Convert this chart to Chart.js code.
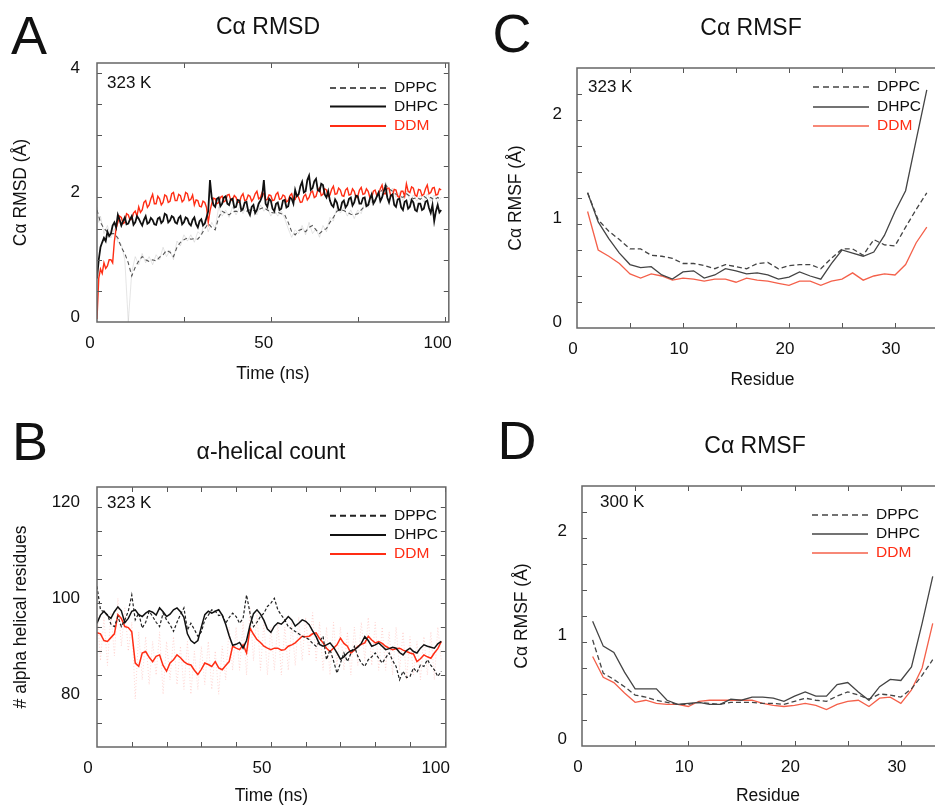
<!DOCTYPE html>
<html>
<head>
<meta charset="utf-8">
<script src="https://cdn.jsdelivr.net/npm/chart.js@4.4.1/dist/chart.umd.min.js"></script>
<style>
  html, body { margin: 0; padding: 0; background: #fff; overflow: hidden; }
  #fig { position: relative; width: 935px; height: 808px; overflow: hidden; font-family: "Liberation Sans", Arial, sans-serif; color: #111; }
  #fig canvas { position: absolute; }
  .tag { position: absolute; transform: translate(-50%, -50%); line-height: 1; white-space: nowrap; }
  .letter { font-size: 54px; }
  .title { font-size: 23px; }
</style>
</head>
<body>
<div id="fig">
  <canvas id="chartA" width="470" height="400" style="left:0;top:0"></canvas>
  <canvas id="chartB" width="470" height="408" style="left:0;top:400px"></canvas>
  <canvas id="chartC" width="520" height="400" style="left:470px;top:0"></canvas>
  <canvas id="chartD" width="520" height="408" style="left:470px;top:400px"></canvas>

  <div class="tag letter" style="left:29px;top:35px">A</div>
  <div class="tag title" style="left:268px;top:26px">Cα RMSD</div>
  <div class="tag letter" style="left:30px;top:441px">B</div>
  <div class="tag title" style="left:271px;top:451px">α-helical count</div>
  <div class="tag letter" style="left:512px;top:33px">C</div>
  <div class="tag title" style="left:751px;top:27px">Cα RMSF</div>
  <div class="tag letter" style="left:517px;top:440px">D</div>
  <div class="tag title" style="left:755px;top:445px">Cα RMSF</div>
</div>

<script>
Chart.defaults.font.family = '"Liberation Sans", Arial, sans-serif';
Chart.defaults.color = "#111";

// tick labels
const rmsdTicks = [0, 2, 4];
const timeTicks = [0, 50, 100];
const helixTicks = [80, 100, 120];
const rmsfTicks = [0, 1, 2];
const residueTicks = [0, 10, 20, 30];

const labels = ["DPPC", "DHPC", "DDM"];

// time grids (ns)
const timeA = [0, 0.5].concat(Array.from({ length: 99 }, (_, i) => i + 1));
const timeAfine = Array.from({ length: 199 }, (_, i) => i / 2);
const timeB = Array.from({ length: 100 }, (_, i) => i);
const residues = [1, 2, 3, 4, 5, 6, 7, 8, 9, 10, 11, 12, 13, 14, 15, 16, 17, 18, 19, 20,
  21, 22, 23, 24, 25, 26, 27, 28, 29, 30, 31, 32, 33];

// A: Ca RMSD at 323 K
const rmsdDppc = [1.8, 1.7, 1.6, 1.5, 1.45, 1.42, 1.42, 1.35, 1.2, 1.1, 0.95,
  0.74, 0.88, 0.98, 1.05, 1.0, 0.97, 1.0, 0.98, 1.04, 1.08,
  1.15, 1.12, 1.05, 1.2, 1.28, 1.32, 1.35, 1.33, 1.34, 1.33,
  1.4, 1.5, 1.58, 1.52, 1.48, 1.68, 1.78, 1.75, 1.72, 1.77,
  1.78, 1.76, 1.8, 1.78, 1.8, 1.79, 1.78, 1.82, 1.84, 1.8,
  1.76, 1.75, 1.76, 1.74, 1.72, 1.6, 1.45, 1.4, 1.47, 1.49,
  1.45, 1.52, 1.55, 1.48, 1.42, 1.47, 1.5, 1.6, 1.68, 1.78,
  1.8, 1.79, 1.76, 1.73, 1.72, 1.74, 1.8, 1.86, 1.88, 1.92,
  1.97, 2.05, 2.12, 2.2, 2.14, 2.1, 2.05, 2.02, 2.0, 2.06,
  2.02, 1.98, 2.0, 1.97, 2.02, 1.98, 2.0, 1.96, 2.0, 1.97];
// unsmoothed DPPC trace (faint)
const rmsdDppcRaw = [1.85, 1.6, 1.7, 1.42, 1.55, 1.35, 1.5, 1.28, 1.25, 1.0,
  0.0, 0.8, 1.05, 0.92, 1.1, 0.95, 1.05, 0.92, 1.08, 1.0,
  1.2, 1.05, 1.15, 1.0, 1.3, 1.22, 1.4, 1.3, 1.4, 1.28,
  1.45, 1.4, 1.65, 1.45, 1.6, 1.5, 1.85, 1.7, 1.8, 1.68,
  1.85, 1.72, 1.85, 1.74, 1.86, 1.74, 1.85, 1.72, 1.88, 1.78,
  1.85, 1.7, 1.8, 1.7, 1.78, 1.66, 1.5, 1.36, 1.48, 1.42,
  1.55, 1.4, 1.6, 1.42, 1.5, 1.36, 1.55, 1.45, 1.68, 1.62,
  1.85, 1.75, 1.84, 1.7, 1.8, 1.66, 1.8, 1.74, 1.92, 1.84,
  1.98, 1.92, 2.1, 2.05, 2.25, 2.08, 2.15, 2.0, 2.08, 1.95,
  2.1, 1.96, 2.04, 1.94, 2.04, 1.93, 2.06, 1.94, 2.04, 1.92, 2.0];
// every 0.5 ns
const rmsdDhpc = [0.7, 1.0, 1.2, 1.28, 1.35, 1.3, 1.45, 1.38, 1.42, 1.55,
  1.6, 1.52, 1.72, 1.64, 1.55, 1.62, 1.68, 1.57, 1.58, 1.65,
  1.7, 1.56, 1.6, 1.7, 1.66, 1.6, 1.55, 1.64, 1.7, 1.58,
  1.6, 1.67, 1.64, 1.57, 1.56, 1.66, 1.68, 1.59, 1.62, 1.74,
  1.72, 1.6, 1.63, 1.7, 1.68, 1.6, 1.58, 1.67, 1.7, 1.57,
  1.6, 1.68, 1.66, 1.58, 1.55, 1.64, 1.68, 1.57, 1.52, 1.62,
  1.65, 1.55, 1.58, 1.68, 1.78, 2.28, 2.0, 1.88, 1.85, 1.98,
  2.0, 1.86, 1.9, 2.0, 2.02, 1.9, 1.88, 1.97, 1.98, 1.84,
  1.85, 1.96, 1.95, 1.8, 1.82, 1.92, 1.93, 1.78, 1.72, 1.85,
  1.88, 1.75, 1.8, 1.9, 1.95, 2.02, 2.28, 1.9, 1.85, 1.98,
  1.95, 1.82, 1.78, 1.9, 1.92, 1.8, 1.82, 1.95, 1.96, 1.84,
  1.86, 2.0, 1.98, 1.9, 2.12, 2.02, 2.05, 2.18, 2.25, 2.08,
  2.1, 2.28, 2.35, 2.12, 2.15, 2.26, 2.3, 2.12, 2.1, 2.22,
  2.2, 2.05, 2.0, 2.1, 1.95, 1.88, 1.85, 1.97, 1.92, 1.8,
  1.8, 1.92, 1.95, 1.84, 1.88, 1.98, 2.0, 1.87, 1.92, 2.03,
  2.02, 1.9, 1.9, 1.99, 2.0, 1.86, 1.88, 1.98, 2.05, 1.9,
  1.95, 2.02, 2.08, 1.94, 2.0, 2.1, 2.18, 2.0, 1.92, 2.03,
  2.05, 1.88, 1.85, 1.97, 1.98, 1.84, 1.8, 1.93, 1.95, 1.82,
  1.85, 1.96, 1.92, 1.8, 1.78, 1.9, 1.9, 1.8, 1.82, 1.93,
  1.95, 1.83, 1.75, 1.88, 1.62, 1.78, 1.88, 1.76, 1.8];
// every 0.5 ns
const rmsdDdm = [0.05, 0.7, 0.85, 0.78, 0.95, 0.86, 0.9, 1.0, 1.0, 0.95,
  1.3, 1.5, 1.6, 1.7, 1.68, 1.58, 1.6, 1.74, 1.72, 1.64,
  1.65, 1.75, 1.78, 1.7, 1.85, 1.76, 1.8, 1.92, 1.95, 1.84,
  1.88, 1.98, 2.05, 1.9, 1.9, 2.02, 1.98, 1.88, 1.92, 2.04,
  2.02, 1.92, 1.94, 2.06, 2.08, 1.95, 1.95, 2.05, 2.03, 1.93,
  1.96, 2.08, 2.06, 1.95, 1.97, 2.04, 1.88, 1.96, 1.95, 1.86,
  1.85, 1.94, 1.92, 1.84, 1.6, 1.78, 1.9, 1.99, 1.98, 1.9,
  1.92, 2.0, 2.02, 1.93, 1.95, 2.04, 2.05, 1.95, 1.97, 2.03,
  2.0, 1.92, 1.93, 2.02, 2.06, 1.95, 1.96, 2.04, 2.02, 1.94,
  1.98, 2.06, 2.1, 1.98, 2.0, 2.08, 2.05, 1.96, 1.97, 2.04,
  2.03, 1.95, 1.96, 2.05, 2.08, 1.97, 1.98, 2.04, 2.02, 1.93,
  1.95, 2.03, 2.06, 1.96, 1.97, 2.05, 2.0, 1.92, 1.93, 2.02,
  2.05, 1.96, 2.0, 2.08, 2.1, 2.0, 2.02, 2.12, 2.15, 2.03,
  2.05, 2.14, 2.12, 2.02, 2.04, 2.13, 2.18, 2.05, 2.06, 2.15,
  2.12, 2.03, 2.02, 2.12, 2.15, 2.04, 2.05, 2.14, 2.1, 2.0,
  2.02, 2.12, 2.16, 2.05, 2.06, 2.14, 2.1, 2.0, 2.0, 2.1,
  2.12, 2.03, 2.05, 2.14, 2.2, 2.06, 2.06, 2.15, 2.15, 2.02,
  2.04, 2.13, 2.12, 2.02, 2.0, 2.1, 2.1, 2.02, 2.22, 2.1,
  2.08, 2.17, 2.15, 2.04, 2.02, 2.13, 2.12, 2.03, 2.05, 2.14,
  2.2, 2.06, 2.08, 2.15, 2.16, 2.04, 2.05, 2.14, 2.12];

// B: alpha-helical residue count at 323 K
const helixDppc = [103.5, 98.6, 98.2, 97.6, 95.6, 95.1, 97.2, 95.1, 96.5, 98.3,
  101.7, 96.5, 97.9, 94.8, 96.0, 98.3, 97.2, 96.0, 95.1, 97.9,
  96.5, 95.5, 94.1, 96.0, 97.6, 99.0, 94.4, 95.8, 94.5, 93.1,
  94.0, 96.5, 97.5, 98.6, 98.3, 97.4, 97.6, 95.8, 97.0, 97.9,
  97.2, 95.8, 96.8, 101.7, 97.9, 95.1, 96.0, 97.2, 97.9, 99.3,
  100.0, 101.0, 98.6, 97.5, 96.5, 95.1, 94.6, 94.1, 93.6, 93.1,
  92.8, 92.4, 91.6, 91.0, 92.0, 93.1, 88.2, 90.3, 88.0, 85.4,
  87.5, 89.6, 87.8, 89.5, 91.0, 88.9, 87.5, 86.8, 88.2, 88.8,
  89.6, 88.5, 87.5, 88.6, 89.6, 88.0, 86.8, 84.0, 85.8, 84.5,
  84.7, 86.5, 85.6, 87.1, 86.8, 88.2, 87.0, 86.1, 84.7, 85.8];
const helixDhpc = [95.8, 97.5, 98.3, 97.4, 96.8, 98.2, 99.2, 98.4, 95.9, 96.8,
  98.3, 98.6, 97.6, 97.2, 97.9, 98.4, 98.1, 97.5, 99.0, 98.2,
  97.2, 97.7, 98.6, 99.0, 98.2, 97.0, 93.6, 92.2, 91.6, 92.2,
  95.0, 97.6, 98.3, 97.9, 98.3, 98.6, 97.5, 95.6, 93.2, 91.2,
  91.4, 91.8, 90.6, 92.2, 95.4, 97.8, 98.6, 97.7, 96.4, 94.6,
  93.9, 95.2, 95.9, 95.6, 96.3, 97.2, 96.5, 95.2, 95.8, 96.5,
  96.2, 95.5, 94.2, 93.0, 91.4, 91.0, 91.3, 91.7, 90.8, 89.6,
  88.3, 88.8, 89.6, 90.1, 90.3, 90.8, 91.6, 93.0, 92.2, 91.0,
  91.3, 91.7, 91.0, 90.3, 90.5, 90.8, 90.6, 89.7, 89.2, 90.1,
  90.6, 89.9, 89.6, 90.6, 91.3, 91.0, 90.8, 90.6, 91.5, 92.0];
const helixDdm = [93.8, 93.6, 92.2, 92.0, 92.8, 93.6, 97.6, 96.8, 95.1, 94.9,
  94.0, 87.5, 86.8, 89.6, 89.9, 88.7, 87.8, 88.9, 89.2, 87.0,
  85.8, 87.5, 88.2, 89.2, 88.6, 87.8, 87.3, 87.1, 86.0, 85.1,
  86.2, 87.5, 87.2, 86.8, 87.8, 86.5, 86.1, 87.0, 87.8, 91.0,
  90.6, 90.3, 91.3, 89.6, 94.8, 93.5, 92.4, 91.8, 91.0, 90.6,
  90.3, 90.6, 90.6, 90.2, 90.3, 91.0, 91.3, 91.7, 92.4, 93.1,
  93.0, 93.1, 93.6, 93.8, 92.6, 91.7, 90.6, 89.9, 90.6, 91.3,
  92.7, 91.6, 91.0, 89.6, 90.2, 91.0, 91.4, 91.7, 93.1, 92.3,
  91.7, 92.0, 91.6, 91.0, 90.6, 90.3, 90.5, 90.6, 90.2, 89.9,
  89.6, 89.4, 87.8, 88.4, 89.2, 88.8, 88.5, 89.6, 90.5, 92.0];
// unsmoothed DDM count (faint trace)
const helixDdmRaw = [99, 88, 97, 87, 98, 89, 101, 91, 99, 90,
  96, 80, 94, 84, 93, 83, 92, 85, 94, 81,
  92, 84, 93, 83, 91, 82, 92, 81, 90, 82,
  91, 83, 92, 82, 90, 81, 91, 84, 95, 86,
  95, 86, 96, 85, 99, 88, 98, 86, 96, 85,
  95, 86, 96, 85, 95, 86, 96, 87, 97, 88,
  97, 89, 98, 88, 96, 86, 95, 85, 96, 87,
  95, 86, 94, 85, 95, 87, 96, 88, 97, 87,
  96, 86, 95, 86, 94, 85, 95, 86, 94, 84,
  93, 85, 92, 84, 93, 85, 94, 84, 95, 88];

// C: Ca RMSF at 323 K
const rmsfC_Dppc = [1.30, 1.04, 0.93, 0.85, 0.76, 0.76, 0.70, 0.69, 0.67, 0.62, 0.62,
  0.60, 0.57, 0.61, 0.59, 0.57, 0.62, 0.63, 0.57, 0.60, 0.61, 0.61,
  0.57, 0.67, 0.76, 0.76, 0.70, 0.85, 0.80, 0.79, 0.97, 1.14, 1.30];
const rmsfC_Dhpc = [1.30, 1.02, 0.86, 0.72, 0.61, 0.58, 0.59, 0.51, 0.47, 0.54, 0.55,
  0.48, 0.51, 0.57, 0.55, 0.52, 0.53, 0.51, 0.47, 0.49, 0.54, 0.50,
  0.47, 0.62, 0.75, 0.72, 0.69, 0.73, 0.89, 1.12, 1.32, 1.81, 2.29];
const rmsfC_Ddm = [1.12, 0.75, 0.69, 0.62, 0.52, 0.48, 0.52, 0.50, 0.46, 0.48, 0.47,
  0.45, 0.47, 0.47, 0.44, 0.48, 0.46, 0.45, 0.43, 0.41, 0.45, 0.45,
  0.41, 0.45, 0.47, 0.53, 0.46, 0.50, 0.52, 0.51, 0.61, 0.82, 0.97];

// D: Ca RMSF at 300 K
const rmsfD_Dppc = [1.02, 0.70, 0.64, 0.57, 0.49, 0.47, 0.44, 0.42, 0.40, 0.40, 0.42,
  0.41, 0.40, 0.42, 0.42, 0.42, 0.41, 0.41, 0.40, 0.43, 0.46, 0.44,
  0.43, 0.48, 0.52, 0.49, 0.45, 0.50, 0.49, 0.47, 0.55, 0.68, 0.83];
const rmsfD_Dhpc = [1.20, 0.96, 0.90, 0.71, 0.55, 0.55, 0.55, 0.44, 0.40, 0.41, 0.42,
  0.40, 0.40, 0.45, 0.44, 0.47, 0.47, 0.46, 0.43, 0.48, 0.52, 0.48,
  0.48, 0.59, 0.61, 0.52, 0.44, 0.57, 0.64, 0.63, 0.76, 1.18, 1.63];
const rmsfD_Ddm = [0.86, 0.66, 0.61, 0.51, 0.42, 0.44, 0.41, 0.40, 0.40, 0.38, 0.43,
  0.44, 0.44, 0.44, 0.44, 0.44, 0.41, 0.39, 0.38, 0.39, 0.41, 0.39,
  0.35, 0.40, 0.43, 0.44, 0.38, 0.46, 0.47, 0.41, 0.54, 0.75, 1.18];

function pairs(xs, ys) {
  return ys.map((v, i) => ({ x: xs[i], y: v }));
}

function pickLabel(list) {
  return v => (list.some(l => Math.abs(l - v) < 1e-6) ? String(v) : "");
}

function axisX(o) {
  return {
    type: "linear",
    min: o.min,
    max: o.max,
    afterFit: s => { s.height = o.height; },
    grid: { display: false, drawTicks: false },
    border: { display: false },
    ticks: {
      stepSize: o.step, includeBounds: false, autoSkip: false, maxTicksLimit: 100,
      maxRotation: 0, padding: 11, labelOffset: o.labelOffset,
      font: { size: 17 }, color: "#111", callback: pickLabel(o.labels),
    },
    title: { display: true, text: o.title, font: { size: 17.5 }, color: "#111", padding: { top: 0, bottom: o.titlePad } },
  };
}

function axisY(o) {
  return {
    type: "linear",
    min: o.min,
    max: o.max,
    afterFit: s => { s.width = o.width; },
    grid: { display: false, drawTicks: false },
    border: { display: false },
    ticks: {
      stepSize: o.step, includeBounds: false, autoSkip: false, maxTicksLimit: 100,
      padding: o.tickPad, labelOffset: o.labelOffset,
      font: { size: 17 }, color: "#111", callback: pickLabel(o.labels),
    },
    title: { display: true, text: o.title, font: { size: 17.5 }, color: "#111", padding: { top: o.titlePad, bottom: 0 } },
  };
}

// box, inward ticks, temperature tag and legend inside the plot
const panelDecor = {
  id: "panelDecor",
  afterDatasetsDraw(chart, args, opts) {
    const { ctx, chartArea: a, scales: { x, y } } = chart;
    const line = (x1, y1, x2, y2) => { ctx.beginPath(); ctx.moveTo(x1, y1); ctx.lineTo(x2, y2); ctx.stroke(); };
    ctx.save();
    ctx.strokeStyle = "#555";
    ctx.lineWidth = 1;
    x.ticks.forEach(t => {
      if (t.value <= x.min || t.value >= x.max) return;
      const px = Math.round(x.getPixelForValue(t.value)) + 0.5;
      line(px, a.bottom, px, a.bottom - 5);
      line(px, a.top, px, a.top + 5);
    });
    y.ticks.forEach(t => {
      if (t.value <= y.min || t.value >= y.max) return;
      const py = Math.round(y.getPixelForValue(t.value)) + 0.5;
      line(a.left, py, a.left + 5, py);
      line(a.right, py, a.right - 5, py);
    });
    ctx.strokeStyle = "#666";
    ctx.lineWidth = 1.5;
    ctx.strokeRect(a.left, a.top, a.right - a.left, a.bottom - a.top);

    ctx.textBaseline = "middle";
    ctx.textAlign = "left";
    ctx.fillStyle = "#111";
    ctx.font = '17px "Liberation Sans", Arial, sans-serif';
    ctx.fillText(opts.temp, a.left + opts.tempDx, a.top + opts.tempDy);

    ctx.font = '15.5px "Liberation Sans", Arial, sans-serif';
    let row = 0;
    chart.data.datasets.forEach(ds => {
      if (ds.raw) return;
      const yy = a.top + opts.legendY[row++];
      const x0 = a.left + opts.legendX;
      ctx.strokeStyle = ds.borderColor;
      ctx.lineWidth = opts.legendWidth;
      ctx.setLineDash(ds.borderDash ? [6, 4] : []);
      line(x0, yy, x0 + 56, yy);
      ctx.setLineDash([]);
      ctx.fillStyle = ds.textColor;
      ctx.fillText(ds.label, x0 + 64, yy);
    });
    ctx.restore();
  },
};

function makeChart(id, datasets, padding, scales, decor) {
  return new Chart(document.getElementById(id), {
    type: "line",
    data: { datasets },
    options: {
      responsive: false,
      animation: false,
      layout: { padding },
      elements: { point: { radius: 0 }, line: { tension: 0 } },
      plugins: { legend: { display: false }, tooltip: { enabled: false }, panelDecor: decor },
      scales,
    },
    plugins: [panelDecor],
  });
}

// A
makeChart("chartA", [
  { label: labels[0], data: pairs(timeA, rmsdDppc), borderColor: "#555", borderWidth: 1.1, borderDash: [4, 3], textColor: "#111", order: 2 },
  { label: labels[1], data: pairs(timeAfine, rmsdDhpc), borderColor: "#111", borderWidth: 1.8, textColor: "#111", order: 0 },
  { label: labels[2], data: pairs(timeAfine, rmsdDdm), borderColor: "#ff2d14", borderWidth: 1.4, textColor: "#ff2d14", order: 1 },
  { label: "DPPC raw", raw: true, data: pairs(timeA, rmsdDppcRaw), borderColor: "rgba(170,170,170,0.3)", borderWidth: 1, order: 3 },
], { left: 0, top: 63, right: 15, bottom: 8 }, {
  x: axisX({ min: 0, max: 101.2, step: 25, labels: timeTicks, height: 70, labelOffset: -7, title: "Time (ns)", titlePad: 7.5 }),
  y: axisY({ min: 0, max: 4.16, step: 0.5, labels: rmsdTicks, width: 97, tickPad: 17, labelOffset: -5, title: "Cα RMSD (Å)", titlePad: 11 }),
}, { temp: "323 K", tempDx: 10, tempDy: 20, legendX: 233, legendY: [25, 43.5, 63], legendWidth: 2 });

// B
makeChart("chartB", [
  { label: labels[0], data: pairs(timeB, helixDppc), borderColor: "#222", borderWidth: 1.2, borderDash: [3, 2], textColor: "#111", order: 1 },
  { label: labels[1], data: pairs(timeB, helixDhpc), borderColor: "#111", borderWidth: 1.5, textColor: "#111", order: 0 },
  { label: labels[2], data: pairs(timeB, helixDdm), borderColor: "#ff2d14", borderWidth: 1.5, textColor: "#ff2d14", order: 2 },
  { label: "DDM raw", raw: true, data: pairs(timeB, helixDdmRaw), borderColor: "rgba(255,110,100,0.35)", borderWidth: 0.8, borderDash: [1, 2], order: 3 },
], { left: 0, top: 87, right: 12, bottom: 1 }, {
  x: axisX({ min: 0, max: 100.3, step: 10, labels: timeTicks, height: 60, labelOffset: -9, title: "Time (ns)", titlePad: 0 }),
  y: axisY({ min: 70, max: 124.2, step: 5, labels: helixTicks, width: 97, tickPad: 17, labelOffset: -5, title: "# alpha helical residues", titlePad: 10.5 }),
}, { temp: "323 K", tempDx: 10, tempDy: 16, legendX: 233, legendY: [28.7, 48, 67], legendWidth: 2 });

// C
makeChart("chartC", [
  { label: labels[0], data: pairs(residues, rmsfC_Dppc), borderColor: "#444", borderWidth: 1.3, borderDash: [5, 3], textColor: "#111", order: 1 },
  { label: labels[1], data: pairs(residues, rmsfC_Dhpc), borderColor: "#444", borderWidth: 1.3, textColor: "#111", order: 0 },
  { label: labels[2], data: pairs(residues, rmsfC_Ddm), borderColor: "#f4604a", borderWidth: 1.3, textColor: "#ff2d14", order: 2 },
], { left: 0, top: 68, right: 42, bottom: 8 }, {
  x: axisX({ min: 0, max: 35, step: 5, labels: residueTicks, height: 64, labelOffset: -4, title: "Residue", titlePad: 1.5 }),
  y: axisY({ min: 0, max: 2.5, step: 0.25, labels: rmsfTicks, width: 107, tickPad: 15, labelOffset: -6, title: "Cα RMSF (Å)", titlePad: 35.5 }),
}, { temp: "323 K", tempDx: 11, tempDy: 19, legendX: 236, legendY: [19, 39, 58], legendWidth: 1.6 });

// D
makeChart("chartD", [
  { label: labels[0], data: pairs(residues, rmsfD_Dppc), borderColor: "#444", borderWidth: 1.3, borderDash: [5, 3], textColor: "#111", order: 1 },
  { label: labels[1], data: pairs(residues, rmsfD_Dhpc), borderColor: "#444", borderWidth: 1.3, textColor: "#111", order: 0 },
  { label: labels[2], data: pairs(residues, rmsfD_Ddm), borderColor: "#f4604a", borderWidth: 1.3, textColor: "#ff2d14", order: 2 },
], { left: 0, top: 86, right: 36, bottom: 1 }, {
  x: axisX({ min: 0, max: 35, step: 5, labels: residueTicks, height: 61, labelOffset: -4, title: "Residue", titlePad: 0 }),
  y: axisY({ min: 0, max: 2.5, step: 0.25, labels: rmsfTicks, width: 112, tickPad: 15, labelOffset: -7, title: "Cα RMSF (Å)", titlePad: 41.5 }),
}, { temp: "300 K", tempDx: 18, tempDy: 16, legendX: 230, legendY: [29, 48, 67], legendWidth: 1.6 });
</script>
</body>
</html>
